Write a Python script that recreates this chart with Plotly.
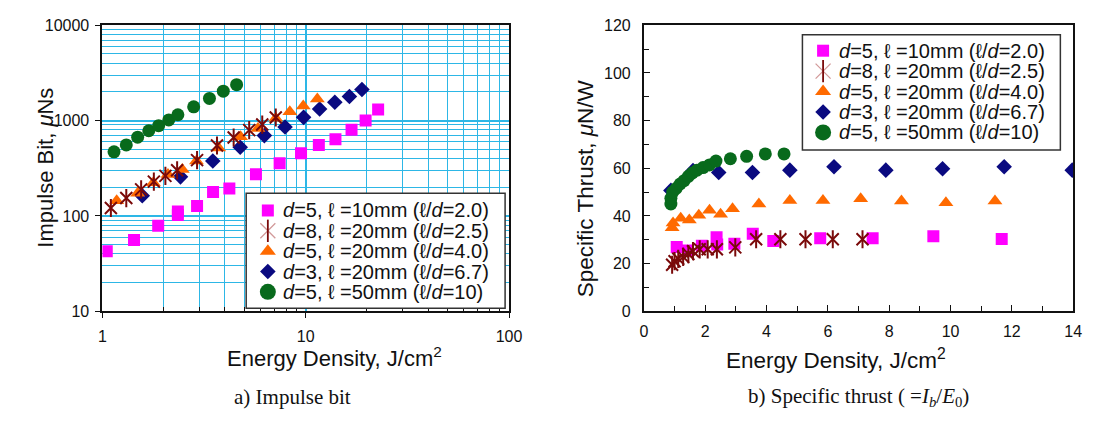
import plotly.graph_objects as go

W, H = 1096, 421

# ---------------- data: a) impulse bit (uNs) vs energy density (J/cm2)
pink_L_x = [1.05, 1.43, 1.88, 2.35, 2.35, 2.92, 3.50, 4.21, 5.69, 7.44, 9.48, 11.6, 14.0, 16.8, 19.7, 22.7]
pink_L_y = [42.6, 56, 79, 111, 102, 127, 178, 194, 273, 356, 454, 556, 639, 800, 1000, 1310]
star_L_x = [1.10, 1.31, 1.55, 1.79, 2.04, 2.33, 2.92, 3.66, 4.42, 5.27, 6.11, 7.12]
star_L_y = [121, 154, 190, 229, 263, 301, 385, 548, 665, 795, 909, 1077]
tri_L_x = [1.175, 1.49, 1.78, 2.10, 2.47, 2.90, 3.73, 4.78, 5.82, 7.12, 8.35, 9.72, 11.4]
tri_L_y = [144, 173, 223, 272, 307, 377, 515, 676, 828, 1057, 1235, 1419, 1681]
dia_L_x = [1.57, 2.42, 3.49, 4.76, 6.26, 7.91, 9.76, 11.7, 13.9, 16.4, 18.9]
dia_L_y = [163, 257, 377, 525, 696, 858, 1082, 1324, 1557, 1790, 2120]
cir_L_x = [1.14, 1.31, 1.49, 1.69, 1.89, 2.12, 2.35, 2.81, 3.36, 3.93, 4.57]
cir_L_y = [470, 556, 670, 782, 885, 1016, 1151, 1396, 1709, 2037, 2381]

# ---------------- data: b) specific thrust (uN/W) vs energy density (J/cm2)
pink_R_x = [1.07, 1.43, 1.89, 2.37, 2.39, 2.95, 3.55, 4.22, 5.75, 7.46, 9.44, 11.67]
pink_R_y = [27, 25.5, 27.5, 31, 28, 28.3, 32.5, 29.5, 30.6, 30.6, 31.5, 30.3]
star_R_x = [0.92, 1.0, 1.12, 1.28, 1.45, 1.6, 1.82, 2.08, 2.38, 2.98, 3.66, 4.45, 5.27, 6.16, 7.13]
star_R_y = [19.5, 21, 22, 22.8, 24, 25.2, 26, 26, 26, 26.8, 30.2, 30.2, 30.2, 30.2, 30.2]
tri_R_x = [0.92, 0.95, 1.2, 1.48, 1.79, 2.14, 2.5, 2.89, 3.75, 4.76, 5.84, 7.07, 8.4, 9.85, 11.45]
tri_R_y = [35, 37, 39, 38.3, 40.3, 42.4, 40.7, 43, 45, 46.5, 46.5, 47.2, 46.3, 45.5, 46.3]
dia_R_x = [0.88, 1.6, 2.44, 3.54, 4.76, 6.2, 7.89, 9.74, 11.75, 13.97]
dia_R_y = [50.7, 59, 58.2, 58.2, 59.2, 60.6, 59.2, 59.8, 60.6, 59.2]
cir_R_x = [0.88, 0.88, 0.94, 1.05, 1.18, 1.31, 1.45, 1.58, 1.73, 1.93, 2.14, 2.35, 2.82, 3.35, 3.96, 4.57]
cir_R_y = [45, 47.4, 50, 51.5, 53.4, 54.8, 56.6, 58, 59.2, 60.3, 61.4, 63, 64, 65, 66, 66]

names = [
    "<i>d</i>=5, ℓ =10mm (ℓ/<i>d</i>=2.0)",
    "<i>d</i>=8, ℓ =20mm (ℓ/<i>d</i>=2.5)",
    "<i>d</i>=5, ℓ =20mm (ℓ/<i>d</i>=4.0)",
    "<i>d</i>=3, ℓ =20mm (ℓ/<i>d</i>=6.7)",
    "<i>d</i>=5, ℓ =50mm (ℓ/<i>d</i>=10)",
]

PINK = "#FF00FF"
RED = "#7A0A0A"
LIGHTRED = "#D29A9A"
ORANGE = "#FF6A00"
NAVY = "#0A0A80"
GREEN = "#086A1C"
SANS = "Liberation Sans, Arial, sans-serif"
SERIF = "Liberation Serif, Times New Roman, serif"

STY = {
    "pink": dict(symbol="square", size=12, color=PINK, line=dict(width=0)),
    "dia": dict(symbol="diamond", size=12, color=NAVY, line=dict(width=0)),
    "tri": dict(symbol="triangle-up", size=13, color=ORANGE, line=dict(width=0)),
    "starx": dict(symbol="x-thin-open", size=12, color=RED, line=dict(width=2, color=RED)),
    "starv": dict(symbol="line-ns-open", size=13, color=RED, line=dict(width=2, color=RED)),
    "cir": dict(symbol="circle", size=13, color=GREEN, line=dict(width=0)),
}

fig = go.Figure()


def add_set(xa, ya, px, py, sx, sy, tx, ty, dx, dy, cx, cy):
    for xs, ys, key in [(px, py, "pink"), (dx, dy, "dia"), (tx, ty, "tri"),
                        (sx, sy, "starx"), (sx, sy, "starv"), (cx, cy, "cir")]:
        fig.add_trace(go.Scatter(x=xs, y=ys, mode="markers", showlegend=False,
                                 xaxis=xa, yaxis=ya, marker=STY[key], hoverinfo="skip"))


add_set("x", "y", pink_L_x, pink_L_y, star_L_x, star_L_y, tri_L_x, tri_L_y,
        dia_L_x, dia_L_y, cir_L_x, cir_L_y)
add_set("x2", "y2", pink_R_x, pink_R_y, star_R_x, star_R_y, tri_R_x, tri_R_y,
        dia_R_x, dia_R_y, cir_R_x, cir_R_y)

# ---------------- legends (drawn on a full-page pixel overlay axis pair)
LEG_FONT = 20
legends = [
    # box x0, y0, x1, y1, symbol x, text x, first row y, row step
    dict(box=(246, 193, 509, 313), sx=268, tx=281, y0=211, dy=21.2),
    dict(box=(811, 28, 1073, 148), sx=832, tx=846, y0=44.5, dy=21.3),
]
shapes = []
for L in legends:
    x0, y0, x1, y1 = L["box"]
    shapes.append(dict(type="rect", xref="x3", yref="y3", x0=x0, y0=y0, x1=x1, y1=y1,
                       layer="below", fillcolor="white", line=dict(color="#333", width=1.5)))
    rows = [L["y0"] + i * L["dy"] for i in range(5)]
    leg_sty = [
        [dict(STY["pink"], size=12)],
        [dict(STY["starx"], size=15, color=LIGHTRED, line=dict(width=1.3, color=LIGHTRED)),
         dict(STY["starv"], size=16, line=dict(width=1.8, color=RED))],
        [dict(STY["tri"], size=14)],
        [dict(STY["dia"], size=12)],
        [dict(STY["cir"], size=16)],
    ]
    for i, yy in enumerate(rows):
        for m in leg_sty[i]:
            fig.add_trace(go.Scatter(x=[L["sx"]], y=[yy], mode="markers", showlegend=False,
                                     xaxis="x3", yaxis="y3", marker=m, cliponaxis=False,
                                     hoverinfo="skip"))
        fig.add_annotation(text=names[i], x=L["tx"], y=yy, xref="x3", yref="y3",
                           xanchor="left", yanchor="middle", showarrow=False,
                           font=dict(family=SANS, size=LEG_FONT, color="#111"))

GRID = "#2DB7E6"
ydom = [1 - 316 / H, 1 - 18 / H]
TICKF = dict(size=16, family=SANS, color="#111")

fig.update_layout(
    width=W, height=H, margin=dict(l=0, r=0, t=0, b=0),
    paper_bgcolor="white", plot_bgcolor="rgba(0,0,0,0)",
    font=dict(family=SANS, size=16, color="#111"),
    showlegend=False,
    shapes=shapes,
    xaxis=dict(type="log", range=[0, 2], domain=[100 / W, 513 / W], anchor="y",
               tickvals=[1, 10, 100], ticktext=["1", "10", "100"],
               showgrid=True, gridcolor=GRID, gridwidth=1.6,
               minor=dict(tickvals=[k * 10 ** e for e in range(0, 2) for k in range(2, 10)],
                          showgrid=True, gridcolor=GRID, gridwidth=1.2,
                          ticks="inside", ticklen=4, tickcolor="#111"),
               showline=True, linecolor="#111", linewidth=2, mirror=True,
               ticks="outside", ticklen=5, tickcolor="#111", ticklabelstandoff=5,
               zeroline=False, tickfont=TICKF),
    yaxis=dict(type="log", range=[1, 4], domain=ydom, anchor="x",
               tickvals=[10, 100, 1000, 10000], ticktext=["10", "100", "1000", "10000"],
               showgrid=True, gridcolor=GRID, gridwidth=1.6,
               minor=dict(tickvals=[k * 10 ** e for e in range(1, 4) for k in range(2, 10)],
                          showgrid=True, gridcolor=GRID, gridwidth=1.2),
               showline=True, linecolor="#111", linewidth=2, mirror=True,
               ticks="outside", ticklen=5, tickcolor="#111", ticklabelstandoff=3,
               zeroline=False, tickfont=TICKF),
    xaxis2=dict(range=[0, 14], domain=[650 / W, 1086 / W], anchor="y2",
                tickvals=[0, 2, 4, 6, 8, 10, 12, 14],
                minor=dict(tickvals=[1, 3, 5, 7, 9, 11, 13], ticks="inside", ticklen=5,
                           tickcolor="#111", showgrid=False),
                showgrid=False, zeroline=False,
                showline=True, linecolor="#111", linewidth=2, mirror=True,
                ticks="inside", ticklen=6, tickcolor="#111", ticklabelstandoff=5,
                tickfont=TICKF),
    yaxis2=dict(range=[0, 120], domain=ydom, anchor="x2",
                tickvals=[0, 20, 40, 60, 80, 100, 120],
                minor=dict(tickvals=[10, 30, 50, 70, 90, 110], ticks="inside", ticklen=5,
                           tickcolor="#111", showgrid=False),
                showgrid=False, zeroline=False,
                showline=True, linecolor="#111", linewidth=2, mirror=True,
                ticks="inside", ticklen=6, tickcolor="#111", ticklabelstandoff=8,
                tickfont=TICKF),
    xaxis3=dict(range=[0, W], domain=[0, 1], anchor="y3", visible=False,
                showgrid=False, zeroline=False, fixedrange=True),
    yaxis3=dict(range=[H, 0], domain=[0, 1], anchor="x3", visible=False,
                showgrid=False, zeroline=False, fixedrange=True),
)


def ann(text, px, py, size, family=SANS, angle=0):
    fig.add_annotation(text=text, x=px / W, y=1 - py / H, xref="paper", yref="paper",
                       xanchor="center", yanchor="middle", showarrow=False, textangle=angle,
                       font=dict(family=family, size=size, color="#111"))


ann("Impulse Bit, <i>μ</i>Ns", 42, 166, 22, angle=-90)
ann("Specific Thrust, <i>μ</i>N/W", 591, 188, 22.5, angle=-90)
ann("Energy Density, J/cm<sup>2</sup>", 336, 364, 22)
ann("Energy Density, J/cm<sup>2</sup>", 845, 366, 22.5)
ann("a) Impulse bit", 293, 405, 21, family=SERIF)
ann("b) Specific thrust ( =<i>I</i><sub><i>b</i></sub>/<i>E</i><sub>0</sub>)", 868, 405, 21, family=SERIF)

fig.write_html("out.html")
